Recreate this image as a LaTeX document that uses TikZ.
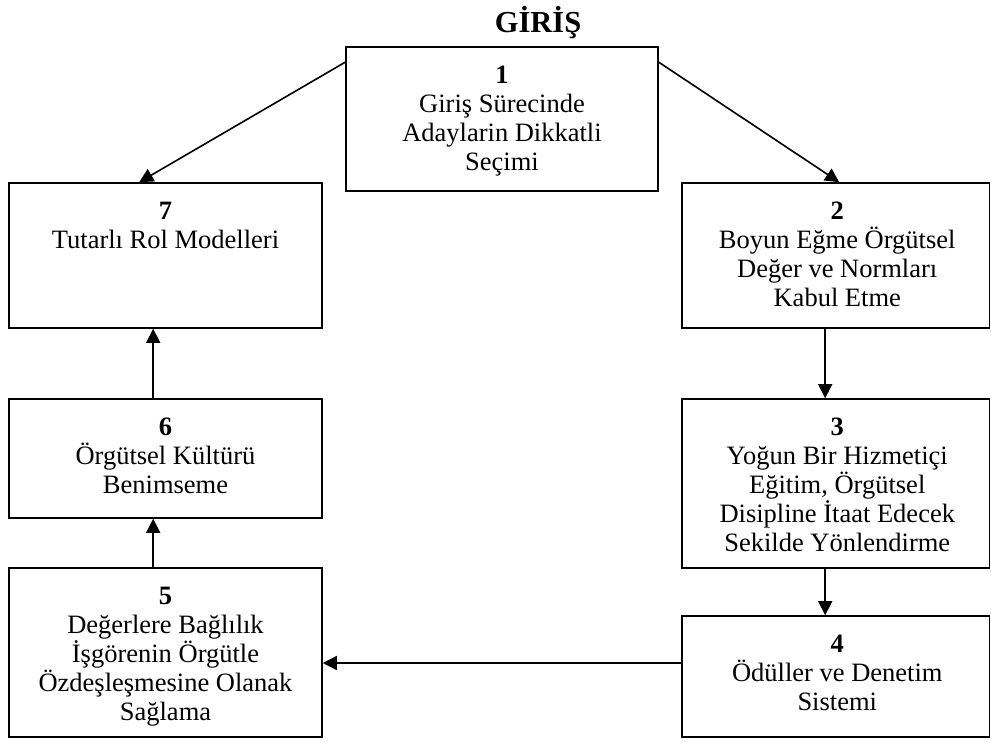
\documentclass[tikz,border=0pt]{standalone}
\usepackage{fontspec}
\setmainfont{Liberation Serif}
\usetikzlibrary{arrows.meta,calc}
\begin{document}
\begin{tikzpicture}[x=1pt,y=-1pt,
  box/.style={draw, line width=1.6pt, inner sep=0pt},
  txt/.style={anchor=north, inner sep=0pt, align=center, font=\fontsize{26.5}{29}\selectfont},
  arr/.style={line width=1.6pt, -{Triangle[length=14pt,width=14pt]}}]
\useasboundingbox (0,0) rectangle (991,742);
\node[anchor=base, font=\fontsize{30.5}{34}\selectfont\bfseries] (title) at (538,32) {GİRİŞ};
% boxes
\node[box, minimum width=312pt, minimum height=144pt] (b1) at (502,119) {};
\node[box, minimum width=313pt, minimum height=145pt] (b7) at (165.5,255.5) {};
\node[box, minimum width=307.5pt, minimum height=145pt] (b2) at (835.75,255.5) {};
\node[box, minimum width=313pt, minimum height=119pt] (b6) at (165.5,458.5) {};
\node[box, minimum width=307.5pt, minimum height=169pt] (b3) at (835.75,483.5) {};
\node[box, minimum width=313pt, minimum height=169pt] (b5) at (165.5,652.5) {};
\node[box, minimum width=307.5pt, minimum height=121pt] (b4) at (835.75,676.5) {};
% texts
\node[txt] (t1) at ([yshift=-20pt]b1.north) {\textbf{1}\\Giriş Sürecinde\\Adaylarin Dikkatli\\Seçimi};
\node[txt] (t7) at ([yshift=-20pt]b7.north) {\textbf{7}\\Tutarlı Rol Modelleri};
\node[txt] (t2) at ([yshift=-20pt,xshift=1.5pt]b2.north) {\textbf{2}\\Boyun Eğme Örgütsel\\Değer ve Normları\\Kabul Etme};
\node[txt] (t6) at ([yshift=-20pt]b6.north) {\textbf{6}\\Örgütsel Kültürü\\Benimseme};
\node[txt] (t3) at ([yshift=-20pt,xshift=1.5pt]b3.north) {\textbf{3}\\Yoğun Bir Hizmetiçi\\Eğitim, Örgütsel\\Disipline İtaat Edecek\\Sekilde Yönlendirme};
\node[txt] (t5) at ([yshift=-20pt]b5.north) {\textbf{5}\\Değerlere Bağlılık\\İşgörenin Örgütle\\Özdeşleşmesine Olanak\\Sağlama};
\node[txt] (t4) at ([yshift=-20pt,xshift=1.5pt]b4.north) {\textbf{4}\\Ödüller ve Denetim\\Sistemi};
% connectors
\draw[arr] ([yshift=-16pt]b1.north west) -- ([xshift=131pt]b7.north west);
\draw[arr] ([yshift=-16pt]b1.north east) -- ([xshift=158pt]b2.north west);
\draw[arr] ([xshift=144pt]b2.south west) -- ([xshift=144pt]b3.north west);
\draw[arr] ([xshift=144pt]b3.south west) -- ([xshift=144pt]b4.north west);
\draw[arr] (b4.west |- 0,663) -- (b5.east |- 0,663);
\draw[arr] ([xshift=145pt]b5.north west) -- ([xshift=145pt]b6.south west);
\draw[arr] ([xshift=145pt]b6.north west) -- ([xshift=145pt]b7.south west);
\end{tikzpicture}
\end{document}
